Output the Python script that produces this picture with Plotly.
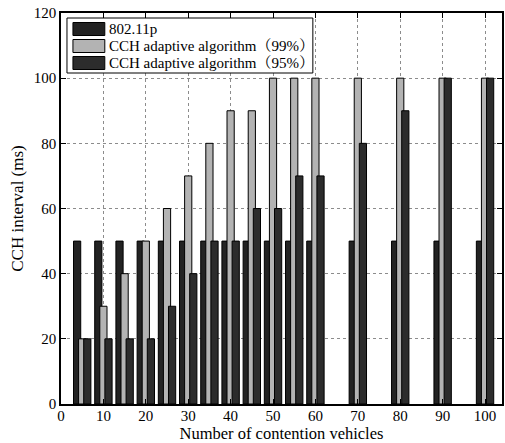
import plotly.graph_objects as go

vehicles = [5, 10, 15, 20, 25, 30, 35, 40, 45, 50, 55, 60, 70, 80, 90, 100]
std_80211p = [50, 50, 50, 50, 50, 50, 50, 50, 50, 50, 50, 50, 50, 50, 50, 50]
adaptive_99 = [20, 30, 40, 50, 60, 70, 80, 90, 90, 100, 100, 100, 100, 100, 100, 100]
adaptive_95 = [20, 20, 20, 20, 30, 40, 50, 50, 60, 60, 70, 70, 80, 90, 100, 100]
series_names = ["802.11p", "CCH adaptive algorithm（99%）", "CCH adaptive algorithm（95%）"]
x_ticks = [0, 10, 20, 30, 40, 50, 60, 70, 80, 90, 100]
y_ticks = [0, 20, 40, 60, 80, 100, 120]

colors = ["#232323", "#b3b3b3", "#2c2c2c"]
offsets = [-2.05, -0.85, 0.35]
bar_w = 1.7
FONT = "Liberation Serif, Times New Roman, Noto Serif CJK SC, Noto Sans CJK SC, serif"

fig = go.Figure()
for vals, name, col, off in zip([std_80211p, adaptive_99, adaptive_95], series_names, colors, offsets):
    fig.add_trace(go.Bar(
        x=vehicles, y=vals, name=name, width=bar_w, offset=off,
        marker=dict(color=col, line=dict(color="#000000", width=1)),
        showlegend=False,
    ))

# custom legend box (MATLAB style)
lx0, lx1 = (67 - 61) / 443, (314 - 61) / 443
ly_top, ly_bot = 1 - (18 - 13) / 391, 1 - (73 - 13) / 391
fig.add_shape(type="rect", xref="paper", yref="paper", x0=lx0, x1=lx1, y0=ly_bot, y1=ly_top,
              line=dict(color="#000000", width=1), fillcolor="#ffffff", layer="above")
row_y = [29, 46, 63]
for ry, name, col in zip(row_y, series_names, colors):
    yc = 1 - (ry - 13) / 391
    h = 6.5 / 391
    fig.add_shape(type="rect", xref="paper", yref="paper",
                  x0=(73 - 61) / 443, x1=(105 - 61) / 443, y0=yc - h, y1=yc + h,
                  line=dict(color="#000000", width=1), fillcolor=col, layer="above")
    fig.add_annotation(xref="paper", yref="paper", x=(107 - 61) / 443, y=yc, text=name,
                       showarrow=False, xanchor="left", yanchor="middle",
                       font=dict(family=FONT, size=15, color="#000000"))

axis_common = dict(
    showline=True, linecolor="#000000", linewidth=1.5, mirror="allticks",
    ticks="inside", ticklen=5, tickwidth=1, tickcolor="#000000",
    showgrid=True, gridcolor="#8c8c8c", griddash="dot", gridwidth=1,
    zeroline=False, tickfont=dict(family=FONT, size=15, color="#000000"),
)
fig.update_xaxes(range=[0, 104], tickvals=x_ticks, ticktext=[str(v) for v in x_ticks],
                 ticklabelstandoff=-3,
                 title=dict(text="Number of contention vehicles", standoff=0,
                            font=dict(family=FONT, size=16.5, color="#000000")),
                 **axis_common)
fig.update_yaxes(range=[0, 120], tickvals=y_ticks, ticktext=[str(v) for v in y_ticks],
                 title=dict(text="CCH interval (ms)", standoff=6,
                            font=dict(family=FONT, size=17, color="#000000")),
                 **axis_common)

fig.update_layout(
    width=505, height=443, barmode="overlay",
    margin=dict(l=61, r=1, t=13, b=39),
    plot_bgcolor="#ffffff", paper_bgcolor="#ffffff",
    showlegend=False,
)
fig.write_html("out.html")
